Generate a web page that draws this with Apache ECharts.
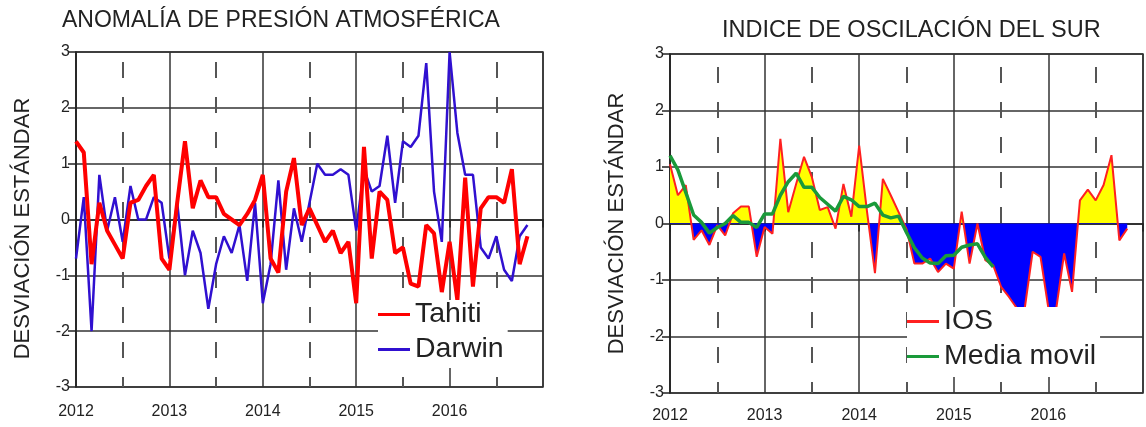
<!DOCTYPE html>
<html>
<head>
<meta charset="utf-8">
<script src="https://cdn.jsdelivr.net/npm/echarts@6/dist/echarts.min.js"></script>
<style>
  html, body { margin: 0; padding: 0; background: #fff; }
  #chart { width: 1146px; height: 427px; }
</style>
</head>
<body>
<div id="chart"></div>
<script>
// datos mensuales desde enero 2012
const anioInicio = 2012;
const tahiti = [1.4, 1.2, -0.8, 0.3, -0.2, -0.45, -0.7, 0.3, 0.35, 0.6, 0.8, -0.7,
  -0.9, 0.3, 1.4, 0.2, 0.7, 0.4, 0.4, 0.1, 0.0, -0.1, 0.1, 0.35,
  0.8, -0.7, -0.95, 0.5, 1.1, -0.1, 0.2, -0.1, -0.4, -0.2, -0.6, -0.4,
  -1.5, 1.3, -0.7, 0.5, 0.35, -0.6, -0.5, -1.15, -1.2, -0.1, -0.25, -1.3,
  -0.4, -1.45, 0.75, -1.2, 0.2, 0.4, 0.4, 0.3, 0.9, -0.8, -0.3];
const darwin = [-0.7, 0.4, -2.0, 0.8, -0.2, 0.4, -0.4, 0.6, 0.0, 0.0, 0.4, 0.3,
  -0.7, 0.3, -1.0, -0.2, -0.6, -1.6, -0.8, -0.3, -0.6, -0.1, -1.1, 0.3,
  -1.5, -0.8, 0.7, -0.9, 0.2, -0.4, 0.3, 1.0, 0.8, 0.8, 0.9, 0.8,
  -0.2, 0.9, 0.5, 0.6, 1.5, 0.3, 1.4, 1.3, 1.5, 2.8, 0.5, -0.4,
  3.0, 1.55, 0.8, 0.8, -0.5, -0.7, -0.3, -0.9, -1.1, -0.3, -0.1];
const ios = [1.05, 0.5, 0.68, -0.29, -0.12, -0.38, -0.03, -0.21, 0.18, 0.3, 0.3, -0.59,
  -0.06, -0.18, 1.5, 0.2, 0.7, 1.18, 0.82, 0.24, 0.29, -0.09, 0.7, 0.12,
  1.38, 0.2, -0.88, 0.79, 0.5, 0.2, -0.1, -0.71, -0.71, -0.62, -0.86, -0.71,
  -0.8, 0.21, -0.71, 0.0, -0.65, -0.74, -1.12, -1.3, -1.5, -1.5, -0.5, -0.59,
  -1.5, -1.5, -0.53, -1.21, 0.41, 0.6, 0.41, 0.68, 1.21, -0.3, -0.09];
const mediaMovil = [1.2, 0.95, 0.55, 0.15, 0.02, -0.17, -0.07, 0.0, 0.14, 0.02, 0.02, -0.07,
  0.17, 0.17, 0.5, 0.74, 0.89, 0.64, 0.64, 0.46, 0.34, 0.22, 0.48, 0.42,
  0.3, 0.3, 0.36, 0.15, 0.1, 0.13, -0.16, -0.43, -0.61, -0.7, -0.71, -0.57,
  -0.56, -0.42, -0.38, -0.36, -0.6, -0.77];

const fuente = "'Liberation Sans', Arial, sans-serif";
const txt = '#222';

// pares [año decimal, valor]
const pares = arr => arr.map((v, i) => [anioInicio + i / 12, v]);

const chart = echarts.init(document.getElementById('chart'));

function ejeX(idx, offset, margen) {
  return {
    type: 'value', gridIndex: idx, min: 2012, max: 2017, interval: 1,
    axisLine: { show: true, lineStyle: { color: '#222', width: 1.5 } },
    axisTick: { show: true, length: 8, lineStyle: { color: '#222', width: 1.5 } },
    axisLabel: {
      fontSize: 16, color: txt, fontFamily: fuente, margin: margen,
      formatter: v => (v === 2017 ? '' : String(v))
    },
    splitLine: { show: true, lineStyle: { color: '#333', width: 1.5 } },
    minorTick: { show: false, splitNumber: 2 },
    minorSplitLine: { show: true, lineStyle: { color: '#555', width: 2, type: [16, 19], dashOffset: offset } }
  };
}

function ejeY(idx, despl) {
  return {
    type: 'value', gridIndex: idx, min: -3, max: 3, interval: 1,
    name: 'DESVIACIÓN ESTÁNDAR', nameLocation: 'middle', nameGap: 42, nameRotate: 90,
    nameTextStyle: { fontSize: 22, color: txt, fontFamily: fuente, padding: [0, despl, 0, 0] },
    axisLine: { show: true, lineStyle: { color: '#222', width: 1.5 } },
    axisTick: { show: true, length: 8, lineStyle: { color: '#222', width: 1.5 } },
    axisLabel: { fontSize: 16, color: txt, fontFamily: fuente, margin: 6 },
    splitLine: { show: true, lineStyle: { color: '#333', width: 1.5 } }
  };
}

const option = {
  backgroundColor: '#fff',
  animation: false,
  title: [
    { text: 'ANOMALÍA DE PRESIÓN ATMOSFÉRICA', left: 62, top: 9, padding: 0,
      textStyle: { fontSize: 23, fontWeight: 'normal', color: txt, fontFamily: fuente } },
    { text: 'INDICE DE OSCILACIÓN DEL SUR', left: 722, top: 19, padding: 0,
      textStyle: { fontSize: 23.5, fontWeight: 'normal', color: txt, fontFamily: fuente } }
  ],
  grid: [
    { left: 76, top: 52, width: 467, height: 335, show: true, borderColor: '#333', borderWidth: 1.5 },
    { left: 670, top: 54, width: 481, height: 339, show: true, borderColor: '#333', borderWidth: 1.5 }
  ],
  xAxis: [ejeX(0, 25, 17), ejeX(1, 22, 15)],
  yAxis: [ejeY(0, 18), ejeY(1, 0)],
  legend: [
    { data: ['Tahiti', 'Darwin'], orient: 'vertical', left: 378, top: 300,
      backgroundColor: '#fff', padding: [0, 4, 4, 0], itemGap: 6,
      icon: 'rect', itemWidth: 32, itemHeight: 3,
      textStyle: { fontSize: 28.5, lineHeight: 28, color: txt, fontFamily: fuente } },
    { data: ['IOS', 'Media movil'], orient: 'vertical', left: 907, top: 307,
      backgroundColor: '#fff', padding: [0, 4, 6, 0], itemGap: 6,
      icon: 'rect', itemWidth: 32, itemHeight: 3,
      textStyle: { fontSize: 28.5, lineHeight: 28, color: txt, fontFamily: fuente } }
  ],
  series: [
    { name: 'Tahiti', type: 'line', xAxisIndex: 0, yAxisIndex: 0, data: pares(tahiti),
      symbol: 'none', color: '#ff0000', lineStyle: { width: 4, color: '#ff0000' }, z: 3 },
    { name: 'Darwin', type: 'line', xAxisIndex: 0, yAxisIndex: 0, data: pares(darwin),
      symbol: 'none', color: '#3010d0', lineStyle: { width: 2.5, color: '#3010d0' }, z: 2 },
    { name: 'relleno', type: 'line', xAxisIndex: 1, yAxisIndex: 1, data: pares(ios),
      symbol: 'none', lineStyle: { width: 0 }, areaStyle: { opacity: 1, color: '#ffff00' }, z: 2 },
    { name: 'IOS', type: 'line', xAxisIndex: 1, yAxisIndex: 1, data: pares(ios),
      symbol: 'none', color: '#ff2020', lineStyle: { width: 2, color: '#ff2020' }, z: 3 },
    { name: 'Media movil', type: 'line', xAxisIndex: 1, yAxisIndex: 1, data: pares(mediaMovil),
      symbol: 'none', color: '#1a9a3a', lineStyle: { width: 3.5, color: '#1a9a3a' }, z: 4 }
  ]
};

chart.setOption(option);

// relleno amarillo sobre cero y azul bajo cero, cortado en el pixel del cero
const yTop = chart.convertToPixel({ gridIndex: 1 }, [2012, 3])[1];
const yBot = chart.convertToPixel({ gridIndex: 1 }, [2012, -3])[1];
const yCero = chart.convertToPixel({ gridIndex: 1 }, [2012, 0])[1];
const f = (yCero - yTop) / (yBot - yTop);
chart.setOption({
  series: [{}, {}, {
    areaStyle: {
      opacity: 1,
      color: new echarts.graphic.LinearGradient(0, yTop, 0, yBot, [
        { offset: 0, color: '#ffff00' }, { offset: f, color: '#ffff00' },
        { offset: f, color: '#0000ff' }, { offset: 1, color: '#0000ff' }
      ], true)
    }
  }]
});
</script>
</body>
</html>
